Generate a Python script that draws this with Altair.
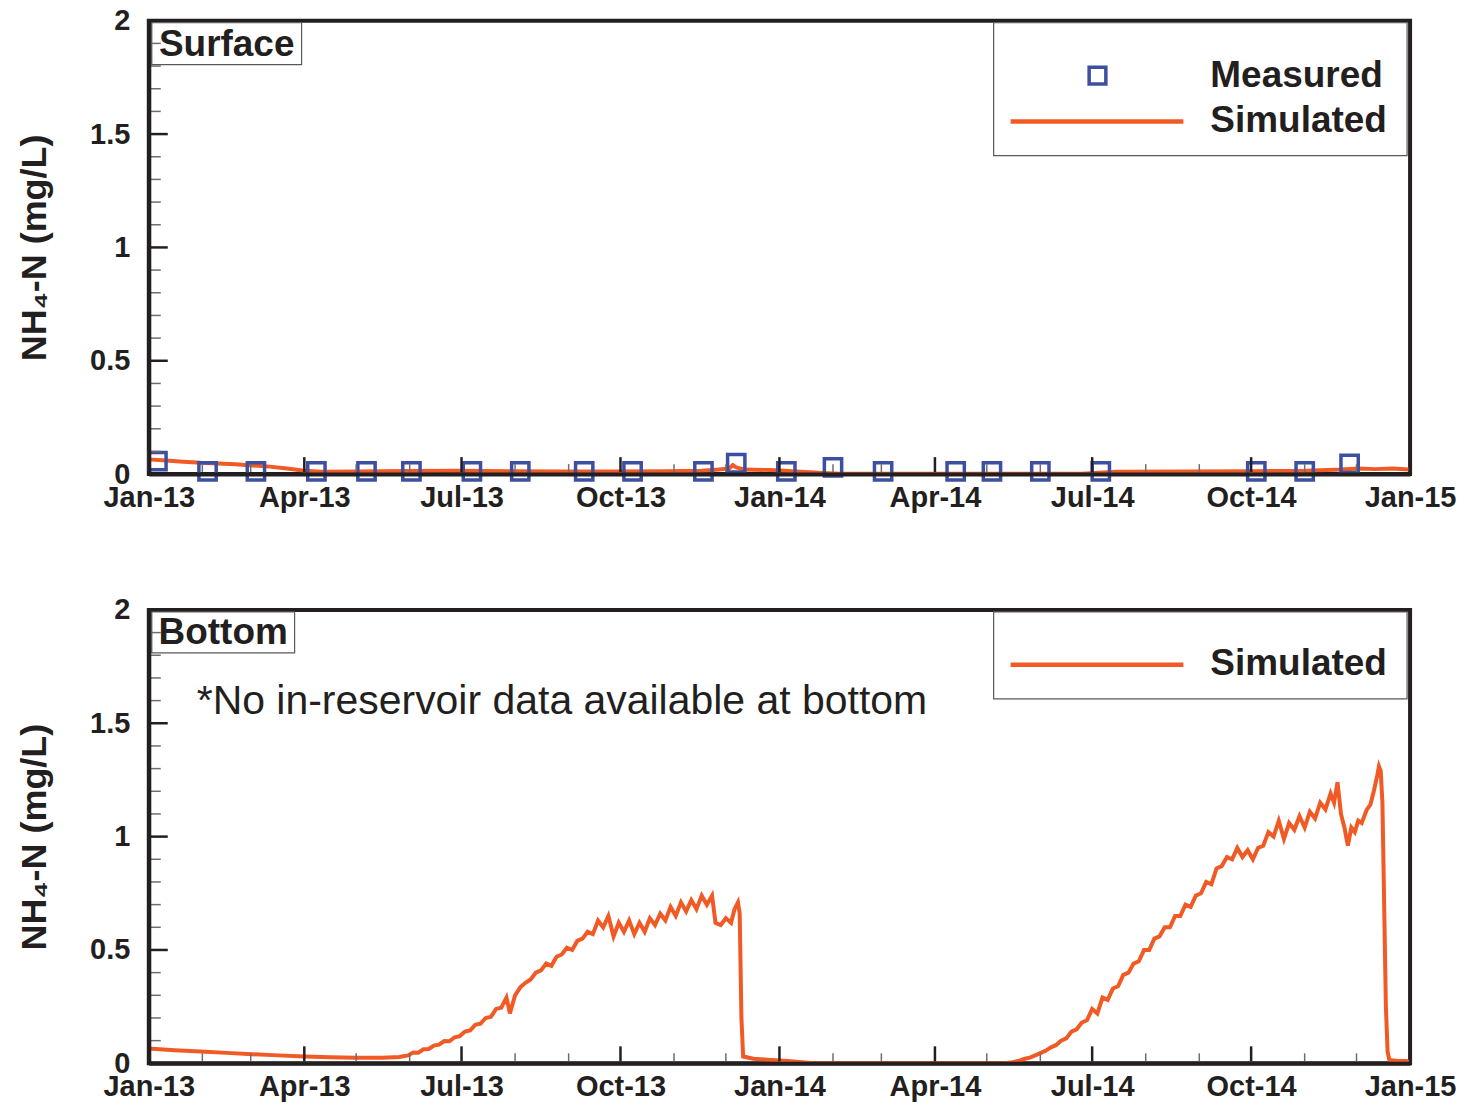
import altair as alt
import pandas as pd

START = pd.Timestamp("2013-01-01")

# ---- Surface: simulated NH4-N (day offset from 1 Jan 2013, mg/L) ----
surf_sim_day = [0, 10, 20, 30, 40, 50, 60, 70, 80, 90, 100, 120, 150, 180, 210, 240,
                270, 300, 320, 330, 336, 338, 340, 345, 360, 375, 390, 400, 540, 560,
                600, 640, 670, 690, 700, 710, 720, 729]
surf_sim_val = [0.065, 0.06, 0.055, 0.05, 0.047, 0.043, 0.038, 0.033, 0.025, 0.015, 0.01,
                0.012, 0.014, 0.015, 0.013, 0.012, 0.012, 0.013, 0.015, 0.02, 0.025, 0.04,
                0.03, 0.02, 0.018, 0.012, 0.005, 0.002, 0.002, 0.01, 0.012, 0.013, 0.015,
                0.02, 0.025, 0.022, 0.025, 0.02]

# ---- Surface: measured NH4-N ----
meas_date = ["2013-01-06", "2013-02-04", "2013-03-04", "2013-04-08", "2013-05-07",
             "2013-06-02", "2013-07-07", "2013-08-04", "2013-09-10", "2013-10-08",
             "2013-11-18", "2013-12-07", "2014-01-05", "2014-02-01", "2014-03-02",
             "2014-04-13", "2014-05-04", "2014-06-01", "2014-07-06", "2014-10-04",
             "2014-11-01", "2014-11-27"]
meas_val = [0.057, 0.012, 0.012, 0.012, 0.012, 0.012, 0.012, 0.012, 0.012, 0.012,
            0.012, 0.048, 0.012, 0.03, 0.012, 0.012, 0.012, 0.012, 0.012, 0.012,
            0.012, 0.045]

# ---- Bottom: simulated NH4-N (day offset from 1 Jan 2013, mg/L) ----
bot_sim_day = [0, 15, 30, 45, 60, 75, 90, 105, 120, 135, 145,
               150, 153, 156, 159, 162, 165, 168, 171, 174, 177, 180, 183, 186, 189,
               192, 195, 198, 201, 204, 207, 209, 212, 215, 218, 221, 224, 227, 230,
               233, 236, 239, 242, 245, 248, 251, 254, 257, 260, 263, 266, 269, 272,
               275, 278, 281, 284, 287, 290, 293, 296, 299, 302, 305, 308, 311, 314,
               317, 320, 323, 326, 328, 331, 334, 337, 339, 341, 342, 343, 344,
               350, 360, 370, 378, 385,
               495, 500, 504, 507, 510, 513, 516, 519, 522, 525, 528, 531, 534, 537,
               540, 543, 546, 549, 552, 555, 558, 561, 564, 567, 570, 573, 576, 579,
               582, 585, 588, 591, 594, 597, 600, 603, 606, 609, 612, 615, 618, 621,
               624, 627, 630, 633, 636, 639, 642, 645, 648, 651, 654, 657, 660, 663,
               666, 669, 672, 675, 678, 681, 684, 686, 688, 690, 692, 694, 696, 698,
               700, 702, 705, 707, 709, 711, 712, 713, 714, 715, 716, 717, 718, 723,
               728, 729]
bot_sim_val = [0.065, 0.058, 0.052, 0.046, 0.04, 0.035, 0.03, 0.027, 0.025, 0.025, 0.028,
               0.035, 0.048, 0.047, 0.062, 0.063, 0.078, 0.082, 0.098, 0.097, 0.115,
               0.12, 0.14, 0.145, 0.17, 0.175, 0.2, 0.205, 0.24, 0.245, 0.29, 0.22, 0.30,
               0.335, 0.355, 0.37, 0.40, 0.41, 0.44, 0.43, 0.47, 0.48, 0.51, 0.50, 0.54,
               0.55, 0.58, 0.57, 0.63, 0.60, 0.65, 0.56, 0.62, 0.58, 0.63, 0.57, 0.62,
               0.58, 0.64, 0.61, 0.66, 0.63, 0.69, 0.65, 0.71, 0.67, 0.72, 0.68, 0.74,
               0.70, 0.74, 0.62, 0.61, 0.64, 0.62, 0.68, 0.71, 0.66, 0.20, 0.03,
               0.02, 0.015, 0.01, 0.005, 0.0,
               0.0, 0.005, 0.012, 0.02, 0.025, 0.035, 0.045, 0.055, 0.07, 0.08, 0.10,
               0.11, 0.14, 0.15, 0.18, 0.19, 0.24, 0.22, 0.29, 0.28, 0.33, 0.34, 0.39,
               0.40, 0.44, 0.45, 0.50, 0.50, 0.55, 0.56, 0.60, 0.60, 0.65, 0.65, 0.70,
               0.69, 0.74, 0.75, 0.80, 0.79, 0.86, 0.87, 0.91, 0.90, 0.95, 0.91, 0.94,
               0.90, 0.95, 0.96, 1.02, 1.00, 1.07, 0.99, 1.06, 1.03, 1.09, 1.04, 1.11,
               1.08, 1.15, 1.12, 1.19, 1.15, 1.24, 1.10, 1.04, 0.96, 1.04, 1.02, 1.07,
               1.06, 1.12, 1.14, 1.20, 1.27, 1.31, 1.29, 1.15, 0.70, 0.25, 0.05, 0.015,
               0.01, 0.01, 0.005]

# axis tick positions
y_label_vals = [0, 0.5, 1, 1.5, 2]
y_major = [0.5, 1.0, 1.5]
y_minor = [0.1, 0.2, 0.3, 0.4, 0.6, 0.7, 0.8, 0.9, 1.1, 1.2, 1.3, 1.4, 1.6, 1.7, 1.8, 1.9]
x_major = ["2013-04-01", "2013-07-01", "2013-10-01", "2014-01-01", "2014-04-01",
           "2014-07-01", "2014-10-01"]
x_minor = ["2013-02-01", "2013-03-01", "2013-05-01", "2013-06-01", "2013-08-01",
           "2013-09-01", "2013-11-01", "2013-12-01", "2014-02-01", "2014-03-01",
           "2014-05-01", "2014-06-01", "2014-08-01", "2014-09-01", "2014-11-01",
           "2014-12-01"]

INK = "#231f20"
GREY = "#6d6e71"
ORANGE = "#f15a24"
BLUE = "#3d4fa1"
FONT = "Liberation Sans"
W, H = 1263, 454


def days_to_dates(days):
    return [START + pd.Timedelta(days=d) for d in days]


def as_dates(strings):
    return [pd.Timestamp(s) for s in strings]


surf_df = pd.DataFrame({"date": days_to_dates(surf_sim_day), "v": surf_sim_val})
bot_df = pd.DataFrame({"date": days_to_dates(bot_sim_day), "v": bot_sim_val})
meas_df = pd.DataFrame({"date": as_dates(meas_date), "v": meas_val})
one = pd.DataFrame({"k": [0]})

x_scale = alt.Scale(domain=[alt.DateTime(year=2013, month=1, date=1),
                            alt.DateTime(year=2015, month=1, date=1)])
y_scale = alt.Scale(domain=[0, 2], nice=False)

quarter_vals = [alt.DateTime(year=y, month=m, date=1)
                for y in (2013, 2014) for m in (1, 4, 7, 10)] + \
               [alt.DateTime(year=2015, month=1, date=1)]

x_axis = alt.Axis(values=quarter_vals, format="%b-%y", formatType="time",
                  labelFontSize=29, labelFontWeight="bold", labelColor=INK,
                  labelPadding=9, ticks=False, tickSize=0, domainColor=INK,
                  domainWidth=4, grid=False, labelFlush=False, labelOverlap=False,
                  title=None, zindex=1)
y_axis = alt.Axis(values=y_label_vals, format="~g", labelFontSize=29,
                  labelFontWeight="bold", labelColor=INK, labelPadding=19,
                  ticks=False, tickSize=0, domainColor=INK, domainWidth=4, grid=False,
                  labelFlush=False, labelOverlap=False, title="NH₄-N (mg/L)",
                  titleFontSize=36, titleFontWeight="bold", titleColor=INK,
                  titlePadding=36, zindex=1)


def X(field):
    return alt.X(field, scale=x_scale, axis=x_axis)


def Y(field):
    return alt.Y(field, scale=y_scale, axis=y_axis)


def tick_layers():
    ymaj = alt.Chart(pd.DataFrame({"v": y_major})).mark_rule(
        color=INK, strokeWidth=2.5).encode(
        y=Y("v:Q"), x=alt.value(2), x2=alt.value(19))
    ymin = alt.Chart(pd.DataFrame({"v": y_minor})).mark_rule(
        color=GREY, strokeWidth=1.5).encode(
        y=Y("v:Q"), x=alt.value(2), x2=alt.value(12))
    xmaj = alt.Chart(pd.DataFrame({"date": as_dates(x_major)})).mark_rule(
        color=INK, strokeWidth=2.5).encode(
        x=X("date:T"), y=alt.value(H - 2), y2=alt.value(H - 17))
    xmin = alt.Chart(pd.DataFrame({"date": as_dates(x_minor)})).mark_rule(
        color=GREY, strokeWidth=1.5).encode(
        x=X("date:T"), y=alt.value(H - 2), y2=alt.value(H - 10))
    return [ymaj, ymin, xmaj, xmin]


def tag(text, right, bottom):
    box = alt.Chart(one).mark_rect(fill="white", stroke="#58595b", strokeWidth=1.2).encode(
        x=alt.value(3), x2=alt.value(right), y=alt.value(2), y2=alt.value(bottom))
    txt = alt.Chart(one).mark_text(font=FONT, fontSize=37, fontWeight="bold", color=INK,
                                   align="center", baseline="middle").encode(
        x=alt.value((3 + right) / 2), y=alt.value((2 + bottom) / 2 + 1), text=alt.value(text))
    return [box, txt]


def legend_box(bottom):
    return alt.Chart(one).mark_rect(fill="white", stroke="#58595b", strokeWidth=1.2).encode(
        x=alt.value(846), x2=alt.value(1260), y=alt.value(2), y2=alt.value(bottom))


def legend_line(y):
    return alt.Chart(one).mark_rule(color=ORANGE, strokeWidth=4.5).encode(
        x=alt.value(863), x2=alt.value(1036), y=alt.value(y))


def legend_text(text, y):
    return alt.Chart(one).mark_text(font=FONT, fontSize=37, fontWeight="bold", color=INK,
                                    align="left", baseline="middle").encode(
        x=alt.value(1063), y=alt.value(y), text=alt.value(text))


def sim_line(df):
    return alt.Chart(df).mark_line(color=ORANGE, strokeWidth=4, clip=True).encode(
        x=X("date:T"), y=Y("v:Q"))


# Surface panel
legend_square = alt.Chart(one).mark_point(shape="square", filled=False, size=280,
                                          strokeWidth=3.5, color=BLUE, opacity=1).encode(
    x=alt.value(950), y=alt.value(55))
measured = alt.Chart(meas_df).mark_point(shape="square", filled=False, size=300,
                                         strokeWidth=3.5, color=BLUE, opacity=1).encode(
    x=X("date:T"), y=Y("v:Q"))

top = alt.layer(
    *tag("Surface", 153, 44),
    legend_box(135), legend_square, legend_line(101),
    legend_text("Measured", 55), legend_text("Simulated", 100),
    sim_line(surf_df), measured, *tick_layers()
).properties(width=W, height=H)

# Bottom panel
note = alt.Chart(one).mark_text(font=FONT, fontSize=41, color=INK, align="left",
                                baseline="middle").encode(
    x=alt.value(48), y=alt.value(92),
    text=alt.value("*No in-reservoir data available at bottom"))

bottom = alt.layer(
    *tag("Bottom", 146, 43),
    legend_box(89), legend_line(55), legend_text("Simulated", 54), note,
    sim_line(bot_df), *tick_layers()
).properties(width=W, height=H)

chart = alt.vconcat(top, bottom, spacing=80).properties(
    padding={"left": 14, "top": 4, "right": 8, "bottom": 8}
).configure(font=FONT, background="white").configure_view(stroke=INK, strokeWidth=4)

chart.save("out.html", embed_options={"renderer": "svg", "actions": False})
